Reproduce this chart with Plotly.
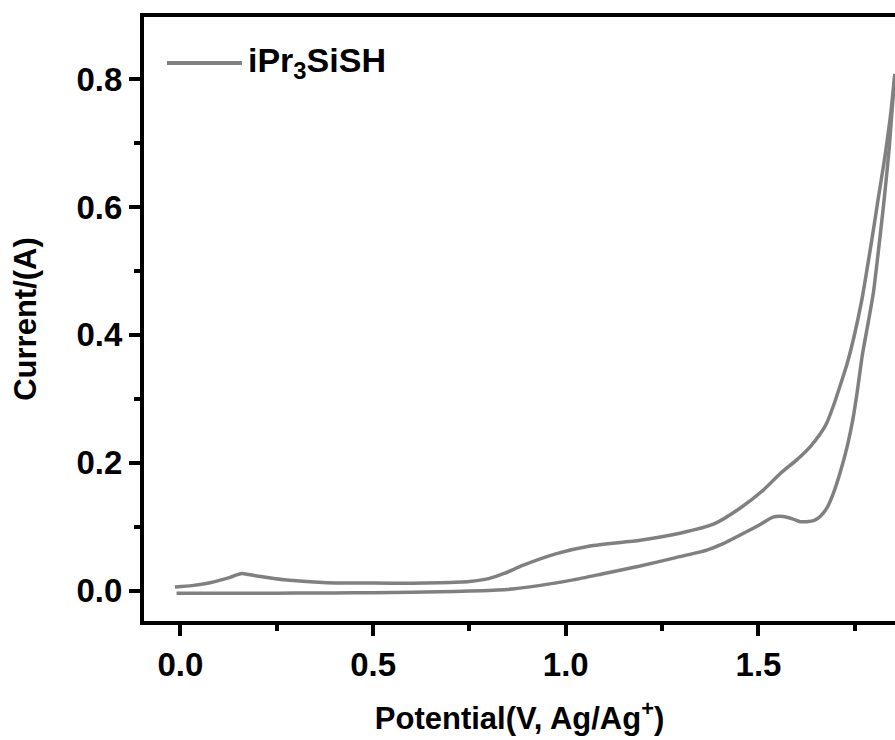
import plotly.graph_objects as go

# Forward scan (lower branch), potential ascending
fwd_v = [-0.01, 0.1, 0.2, 0.3, 0.4, 0.5, 0.6, 0.673, 0.75, 0.847, 0.93, 1.019, 1.1, 1.193,
         1.28, 1.366, 1.41, 1.452, 1.5, 1.538, 1.564, 1.59, 1.608, 1.625, 1.645, 1.66,
         1.678, 1.694, 1.712, 1.73, 1.745, 1.756, 1.77, 1.785, 1.798, 1.811, 1.825, 1.839, 1.854]
fwd_i = [-0.004, -0.004, -0.004, -0.0037, -0.0035, -0.003, -0.0022, -0.0015, -0.0005, 0.002, 0.008, 0.017, 0.027, 0.0386,
         0.051, 0.0636, 0.074, 0.087, 0.102, 0.115, 0.116, 0.112, 0.108, 0.108, 0.110, 0.116,
         0.130, 0.152, 0.185, 0.225, 0.268, 0.31, 0.37, 0.42, 0.465, 0.53, 0.605, 0.69, 0.808]

# Reverse scan (upper branch), potential ascending
rev_v = [-0.014, 0.03, 0.077, 0.129, 0.159, 0.198, 0.276, 0.38, 0.5, 0.6, 0.673, 0.75, 0.8, 0.84,
         0.89, 0.976, 1.063, 1.193, 1.296, 1.383, 1.452, 1.512, 1.556, 1.6, 1.634, 1.66,
         1.677, 1.695, 1.711, 1.73, 1.746, 1.768, 1.781, 1.794, 1.81, 1.828, 1.842, 1.854]
rev_i = [0.006, 0.008, 0.0125, 0.021, 0.027, 0.023, 0.0167, 0.0125, 0.012, 0.0118, 0.0125, 0.0145, 0.019, 0.027,
         0.040, 0.058, 0.070, 0.079, 0.090, 0.104, 0.129, 0.157, 0.183, 0.205, 0.225, 0.245,
         0.262, 0.29, 0.319, 0.355, 0.392, 0.454, 0.50, 0.548, 0.61, 0.678, 0.74, 0.808]

series_name = "iPr<sub>3</sub>SiSH"
x_title = "Potential(V, Ag/Ag<sup>+</sup>)"
y_title = "Current/(A)"

line_color = "rgb(128,128,128)"
font_family = "Liberation Sans, Arial, sans-serif"

fig = go.Figure()
fig.add_trace(go.Scatter(x=fwd_v, y=fwd_i, mode="lines", name=series_name,
                         showlegend=False,
                         line=dict(color=line_color, width=3.5, shape="spline", smoothing=0.6)))
fig.add_trace(go.Scatter(x=rev_v[::-1], y=rev_i[::-1], mode="lines", name=series_name,
                         showlegend=False,
                         line=dict(color=line_color, width=3.5, shape="spline", smoothing=0.6)))

tickfont = dict(family=font_family, size=33, color="black", weight="bold")
titlefont = dict(family=font_family, size=31, color="black", weight="bold")

# Legend drawn as a key line + label (long key line as in the original)
fig.add_shape(type="line", xref="paper", yref="paper",
              x0=0.0306, x1=0.1305, y0=0.924, y1=0.924,
              line=dict(color=line_color, width=4))
fig.add_annotation(xref="paper", yref="paper", x=0.1355, y=0.924,
                   xanchor="left", yanchor="middle", showarrow=False,
                   text=series_name,
                   font=dict(family=font_family, size=34, color="black", weight="bold"))

fig.update_layout(
    width=895, height=740,
    margin=dict(l=144, r=0, t=17, b=119, autoexpand=False),
    paper_bgcolor="white", plot_bgcolor="white",
    showlegend=False,
    xaxis=dict(range=[-0.0945, 1.8543], showgrid=False, zeroline=False, automargin=False,
               showline=True, linecolor="black", linewidth=4, mirror=True,
               ticks="outside", ticklen=11, tickwidth=3.5, tickcolor="black",
               tickmode="linear", tick0=0, dtick=0.5, tickformat=".1f",
               minor=dict(ticks="outside", ticklen=6, tickwidth=3.5, tickcolor="black", dtick=0.25, tick0=0),
               tickfont=tickfont,
               title=dict(text=x_title, font=titlefont, standoff=27)),
    yaxis=dict(range=[-0.0473, 0.897], showgrid=False, zeroline=False, automargin=False,
               showline=True, linecolor="black", linewidth=4, mirror=False,
               ticks="outside", ticklen=11, tickwidth=3.5, tickcolor="black",
               tickmode="linear", tick0=0, dtick=0.2, tickformat=".1f",
               minor=dict(ticks="outside", ticklen=6, tickwidth=3.5, tickcolor="black", dtick=0.1, tick0=0),
               tickfont=tickfont,
               title=dict(text=y_title, font=titlefont, standoff=32)),
)

fig.write_html("out.html",
               config={"displayModeBar": False},
               post_script="document.body.style.margin='0';document.body.style.padding='0';")
